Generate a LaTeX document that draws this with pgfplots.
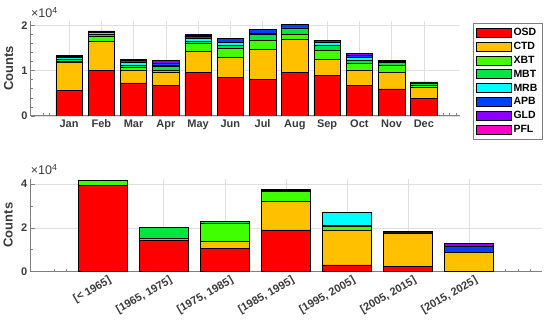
\documentclass[border=0pt]{standalone}
\usepackage{fontspec}
\setmainfont{Liberation Sans}
\usepackage{pgfplots}
\pgfplotsset{compat=1.18}
\definecolor{cOSD}{RGB}{255,0,0}
\definecolor{cCTD}{RGB}{255,192,0}
\definecolor{cXBT}{RGB}{64,255,0}
\definecolor{cMBT}{RGB}{0,230,64}
\definecolor{cMRB}{RGB}{0,255,255}
\definecolor{cAPB}{RGB}{0,64,255}
\definecolor{cGLD}{RGB}{140,0,255}
\definecolor{cPFL}{RGB}{255,0,200}
\definecolor{txt}{RGB}{58,58,58}
\definecolor{axc}{RGB}{128,128,128}
\definecolor{grd}{RGB}{223,223,223}
\pgfplotsset{
  L/.style={draw=black, line width=0.6pt, legend image code/.code={\draw[##1,draw=black,line width=0.6pt] (0pt,-4.5pt) rectangle (35pt,4.5pt);}},
  base/.style={
    scale only axis,
    ybar stacked,
    clip mode=individual,
    axis x line*=bottom, axis y line*=left,
    axis line style={draw=axc,line width=1pt},
    tick style={draw=axc,line width=0.7pt},
    major tick length=4pt, minor tick length=2.5pt,
    tick align=inside,
    grid=major, grid style={draw=grd,line width=0.6pt},
    scaled y ticks=false,
    ymin=0,
    every tick label/.append style={font=\bfseries\fontsize{11}{13}\selectfont, text=txt},
    ylabel={Counts},
    ylabel style={font=\bfseries\fontsize{13}{15}\selectfont, text=txt, rotate=0, anchor=south},
    minor y tick num=4,
  }
}
\begin{document}
\begin{tikzpicture}
\path[use as bounding box] (0,0) rectangle (550pt,329pt);
\begin{axis}[base,
  at={(31pt,213pt)}, anchor=south west,
  width=429pt, height=95.1pt,
  xmin=-0.18, xmax=13.12, ymax=21000,
  bar width=0.82,
  xtick={1,...,12},
  xticklabels={Jan,Feb,Mar,Apr,May,Jun,Jul,Aug,Sep,Oct,Nov,Dec},
  minor xtick={0.2,0.4,...,13},
  ytick={0,10000,20000}, yticklabels={0,1,2},
  ylabel style={at={(axis description cs:-0.033,0.5)}},
  legend style={at={(1.0303,0.978)}, anchor=north west, draw=axc, line width=0.8pt,
    font=\bfseries\fontsize{10.5}{12}\selectfont, row sep=1.2pt, inner sep=2.5pt,
    /tikz/every even column/.append style={column sep=3pt}},
  legend cell align=left,
]
\addplot[L,fill=cOSD] coordinates {(1,5700)(2,10150)(3,7300)(4,6700)(5,9640)(6,8540)(7,8100)(8,9600)(9,9050)(10,6700)(11,6000)(12,3900)};
\addplot[L,fill=cCTD] coordinates {(1,6100)(2,6300)(3,2850)(4,3000)(5,4710)(6,4330)(7,6600)(8,7300)(9,3460)(10,3300)(11,3650)(12,2450)};
\addplot[L,fill=cXBT] coordinates {(1,350)(2,1100)(3,500)(4,450)(5,1700)(6,2000)(7,2000)(8,1200)(9,2060)(10,1600)(11,1600)(12,450)};
\addplot[L,fill=cMBT] coordinates {(1,450)(2,500)(3,600)(4,750)(5,500)(6,750)(7,1300)(8,1250)(9,1100)(10,600)(11,600)(12,500)};
\addplot[L,fill=cMRB] coordinates {(1,350)(2,350)(3,500)(4,380)(5,600)(6,700)(7,300)(8,100)(9,530)(10,800)(11,200)(12,150)};
\addplot[L,fill=cAPB] coordinates {(1,300)(2,300)(3,600)(4,400)(5,500)(6,900)(7,800)(8,850)(9,580)(10,400)(11,200)(12,100)};
\addplot[L,fill=cGLD] coordinates {(1,50)(2,100)(3,100)(4,600)(5,250)(6,0)(7,0)(8,0)(9,0)(10,500)(11,0)(12,0)};
\addplot[L,fill=cPFL] coordinates {(1,0)(2,0)(3,0)(4,0)(5,100)(6,0)(7,0)(8,0)(9,0)(10,0)(11,0)(12,0)};
\legend{OSD,CTD,XBT,MBT,MRB,APB,GLD,PFL}
\node[anchor=south west, inner sep=0pt, text=txt, font=\fontsize{12.5}{14}\selectfont] at (axis description cs:0,1.03) {×10\textsuperscript{4}};
\end{axis}
\begin{axis}[base,
  at={(30.7pt,57.3pt)}, anchor=south west,
  width=511pt, height=93.1pt,
  xmin=-0.18, xmax=8.19, ymax=42500,
  bar width=0.8,
  xtick={1,...,7},
  xticklabels={{[< 1965]},{[1965, 1975]},{[1975, 1985]},{[1985, 1995]},{[1995, 2005]},{[2005, 2015]},{[2015, 2025]}},
  xticklabel style={rotate=30, anchor=north east, xshift=6pt, yshift=-2pt},
  minor xtick={0.2,0.4,...,8.1},
  ytick={0,20000,40000}, yticklabels={0,2,4},
  minor ytick={10000,30000},
  ylabel style={at={(axis description cs:-0.028,0.5)}},
]
\addplot[L,fill=cOSD] coordinates {(1,39400)(2,14150)(3,10700)(4,19050)(5,3100)(6,2600)(7,200)};
\addplot[L,fill=cCTD] coordinates {(1,0)(2,0)(3,3000)(4,12900)(5,15600)(6,14900)(7,8500)};
\addplot[L,fill=cXBT] coordinates {(1,2150)(2,1100)(3,8400)(4,4560)(5,1800)(6,200)(7,0)};
\addplot[L,fill=cMBT] coordinates {(1,0)(2,4800)(3,1000)(4,300)(5,500)(6,0)(7,0)};
\addplot[L,fill=cMRB] coordinates {(1,0)(2,0)(3,0)(4,400)(5,6100)(6,200)(7,0)};
\addplot[L,fill=cAPB] coordinates {(1,0)(2,0)(3,0)(4,400)(5,0)(6,200)(7,2900)};
\addplot[L,fill=cGLD] coordinates {(1,0)(2,0)(3,0)(4,0)(5,0)(6,200)(7,1200)};
\node[anchor=south west, inner sep=0pt, text=txt, font=\fontsize{12.5}{14}\selectfont] at (axis description cs:0,1.04) {×10\textsuperscript{4}};
\end{axis}
\end{tikzpicture}
\end{document}
